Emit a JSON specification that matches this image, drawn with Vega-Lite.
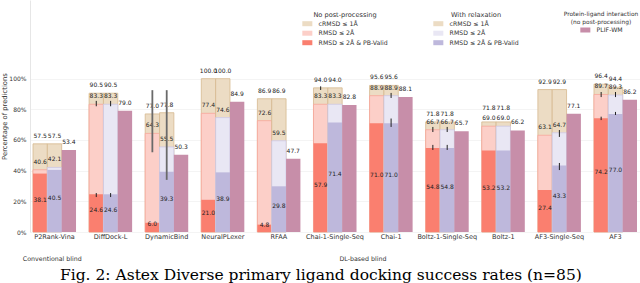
{
  "$schema": "https://vega.github.io/schema/vega-lite/v6.json",
  "width": 610,
  "height": 232,
  "autosize": {"type": "none"},
  "padding": {"left": 30, "top": 0, "right": 0, "bottom": 51},
  "background": "white",
  "title": {
    "text": "Fig. 2: Astex Diverse primary ligand docking success rates (n=85)",
    "orient": "bottom", "anchor": "middle", "frame": "bounds",
    "font": "DejaVu Serif", "fontSize": 15.5, "fontWeight": "normal",
    "color": "#000", "baseline": "top", "offset": 6
  },
  "datasets": {
    "bars": [
      {"method": "P2Rank-Vina", "proc": "none", "metric": "cRMSD ≤ 1Å", "value": 57.5},
      {"method": "P2Rank-Vina", "proc": "none", "metric": "RMSD ≤ 2Å", "value": 40.6},
      {"method": "P2Rank-Vina", "proc": "none", "metric": "RMSD ≤ 2Å & PB-Valid", "value": 38.1},
      {"method": "P2Rank-Vina", "proc": "relax", "metric": "cRMSD ≤ 1Å", "value": 57.5},
      {"method": "P2Rank-Vina", "proc": "relax", "metric": "RMSD ≤ 2Å", "value": 42.1},
      {"method": "P2Rank-Vina", "proc": "relax", "metric": "RMSD ≤ 2Å & PB-Valid", "value": 40.5},
      {"method": "P2Rank-Vina", "proc": "plif", "metric": "PLIF-WM", "value": 53.4},
      {"method": "DiffDock-L", "proc": "none", "metric": "cRMSD ≤ 1Å", "value": 90.5},
      {"method": "DiffDock-L", "proc": "none", "metric": "RMSD ≤ 2Å", "value": 83.3},
      {"method": "DiffDock-L", "proc": "none", "metric": "RMSD ≤ 2Å & PB-Valid", "value": 24.6},
      {"method": "DiffDock-L", "proc": "relax", "metric": "cRMSD ≤ 1Å", "value": 90.5},
      {"method": "DiffDock-L", "proc": "relax", "metric": "RMSD ≤ 2Å", "value": 83.3},
      {"method": "DiffDock-L", "proc": "relax", "metric": "RMSD ≤ 2Å & PB-Valid", "value": 24.6},
      {"method": "DiffDock-L", "proc": "plif", "metric": "PLIF-WM", "value": 79.0},
      {"method": "DynamicBind", "proc": "none", "metric": "cRMSD ≤ 1Å", "value": 77.0},
      {"method": "DynamicBind", "proc": "none", "metric": "RMSD ≤ 2Å", "value": 64.3},
      {"method": "DynamicBind", "proc": "none", "metric": "RMSD ≤ 2Å & PB-Valid", "value": 6.0},
      {"method": "DynamicBind", "proc": "relax", "metric": "cRMSD ≤ 1Å", "value": 77.8},
      {"method": "DynamicBind", "proc": "relax", "metric": "RMSD ≤ 2Å", "value": 55.5},
      {"method": "DynamicBind", "proc": "relax", "metric": "RMSD ≤ 2Å & PB-Valid", "value": 39.3},
      {"method": "DynamicBind", "proc": "plif", "metric": "PLIF-WM", "value": 50.3},
      {"method": "NeuralPLexer", "proc": "none", "metric": "cRMSD ≤ 1Å", "value": 100.0},
      {"method": "NeuralPLexer", "proc": "none", "metric": "RMSD ≤ 2Å", "value": 77.4},
      {"method": "NeuralPLexer", "proc": "none", "metric": "RMSD ≤ 2Å & PB-Valid", "value": 21.0},
      {"method": "NeuralPLexer", "proc": "relax", "metric": "cRMSD ≤ 1Å", "value": 100.0},
      {"method": "NeuralPLexer", "proc": "relax", "metric": "RMSD ≤ 2Å", "value": 74.6},
      {"method": "NeuralPLexer", "proc": "relax", "metric": "RMSD ≤ 2Å & PB-Valid", "value": 38.9},
      {"method": "NeuralPLexer", "proc": "plif", "metric": "PLIF-WM", "value": 84.9},
      {"method": "RFAA", "proc": "none", "metric": "cRMSD ≤ 1Å", "value": 86.9},
      {"method": "RFAA", "proc": "none", "metric": "RMSD ≤ 2Å", "value": 72.6},
      {"method": "RFAA", "proc": "none", "metric": "RMSD ≤ 2Å & PB-Valid", "value": 4.8},
      {"method": "RFAA", "proc": "relax", "metric": "cRMSD ≤ 1Å", "value": 86.9},
      {"method": "RFAA", "proc": "relax", "metric": "RMSD ≤ 2Å", "value": 59.5},
      {"method": "RFAA", "proc": "relax", "metric": "RMSD ≤ 2Å & PB-Valid", "value": 29.8},
      {"method": "RFAA", "proc": "plif", "metric": "PLIF-WM", "value": 47.7},
      {"method": "Chai-1-Single-Seq", "proc": "none", "metric": "cRMSD ≤ 1Å", "value": 94.0},
      {"method": "Chai-1-Single-Seq", "proc": "none", "metric": "RMSD ≤ 2Å", "value": 83.3},
      {"method": "Chai-1-Single-Seq", "proc": "none", "metric": "RMSD ≤ 2Å & PB-Valid", "value": 57.9},
      {"method": "Chai-1-Single-Seq", "proc": "relax", "metric": "cRMSD ≤ 1Å", "value": 94.0},
      {"method": "Chai-1-Single-Seq", "proc": "relax", "metric": "RMSD ≤ 2Å", "value": 83.3},
      {"method": "Chai-1-Single-Seq", "proc": "relax", "metric": "RMSD ≤ 2Å & PB-Valid", "value": 71.4},
      {"method": "Chai-1-Single-Seq", "proc": "plif", "metric": "PLIF-WM", "value": 82.8},
      {"method": "Chai-1", "proc": "none", "metric": "cRMSD ≤ 1Å", "value": 95.6},
      {"method": "Chai-1", "proc": "none", "metric": "RMSD ≤ 2Å", "value": 88.9},
      {"method": "Chai-1", "proc": "none", "metric": "RMSD ≤ 2Å & PB-Valid", "value": 71.0},
      {"method": "Chai-1", "proc": "relax", "metric": "cRMSD ≤ 1Å", "value": 95.6},
      {"method": "Chai-1", "proc": "relax", "metric": "RMSD ≤ 2Å", "value": 88.9},
      {"method": "Chai-1", "proc": "relax", "metric": "RMSD ≤ 2Å & PB-Valid", "value": 71.0},
      {"method": "Chai-1", "proc": "plif", "metric": "PLIF-WM", "value": 88.1},
      {"method": "Boltz-1-Single-Seq", "proc": "none", "metric": "cRMSD ≤ 1Å", "value": 71.8},
      {"method": "Boltz-1-Single-Seq", "proc": "none", "metric": "RMSD ≤ 2Å", "value": 66.7},
      {"method": "Boltz-1-Single-Seq", "proc": "none", "metric": "RMSD ≤ 2Å & PB-Valid", "value": 54.8},
      {"method": "Boltz-1-Single-Seq", "proc": "relax", "metric": "cRMSD ≤ 1Å", "value": 71.8},
      {"method": "Boltz-1-Single-Seq", "proc": "relax", "metric": "RMSD ≤ 2Å", "value": 66.7},
      {"method": "Boltz-1-Single-Seq", "proc": "relax", "metric": "RMSD ≤ 2Å & PB-Valid", "value": 54.8},
      {"method": "Boltz-1-Single-Seq", "proc": "plif", "metric": "PLIF-WM", "value": 65.7},
      {"method": "Boltz-1", "proc": "none", "metric": "cRMSD ≤ 1Å", "value": 71.8},
      {"method": "Boltz-1", "proc": "none", "metric": "RMSD ≤ 2Å", "value": 69.0},
      {"method": "Boltz-1", "proc": "none", "metric": "RMSD ≤ 2Å & PB-Valid", "value": 53.2},
      {"method": "Boltz-1", "proc": "relax", "metric": "cRMSD ≤ 1Å", "value": 71.8},
      {"method": "Boltz-1", "proc": "relax", "metric": "RMSD ≤ 2Å", "value": 69.0},
      {"method": "Boltz-1", "proc": "relax", "metric": "RMSD ≤ 2Å & PB-Valid", "value": 53.2},
      {"method": "Boltz-1", "proc": "plif", "metric": "PLIF-WM", "value": 66.2},
      {"method": "AF3-Single-Seq", "proc": "none", "metric": "cRMSD ≤ 1Å", "value": 92.9},
      {"method": "AF3-Single-Seq", "proc": "none", "metric": "RMSD ≤ 2Å", "value": 63.1},
      {"method": "AF3-Single-Seq", "proc": "none", "metric": "RMSD ≤ 2Å & PB-Valid", "value": 27.4},
      {"method": "AF3-Single-Seq", "proc": "relax", "metric": "cRMSD ≤ 1Å", "value": 92.9},
      {"method": "AF3-Single-Seq", "proc": "relax", "metric": "RMSD ≤ 2Å", "value": 64.7},
      {"method": "AF3-Single-Seq", "proc": "relax", "metric": "RMSD ≤ 2Å & PB-Valid", "value": 43.3},
      {"method": "AF3-Single-Seq", "proc": "plif", "metric": "PLIF-WM", "value": 77.1},
      {"method": "AF3", "proc": "none", "metric": "cRMSD ≤ 1Å", "value": 96.4},
      {"method": "AF3", "proc": "none", "metric": "RMSD ≤ 2Å", "value": 89.7},
      {"method": "AF3", "proc": "none", "metric": "RMSD ≤ 2Å & PB-Valid", "value": 74.2},
      {"method": "AF3", "proc": "relax", "metric": "cRMSD ≤ 1Å", "value": 94.4},
      {"method": "AF3", "proc": "relax", "metric": "RMSD ≤ 2Å", "value": 89.3},
      {"method": "AF3", "proc": "relax", "metric": "RMSD ≤ 2Å & PB-Valid", "value": 77.0},
      {"method": "AF3", "proc": "plif", "metric": "PLIF-WM", "value": 86.2}
    ],
    "errs": [
      {"method": "DiffDock-L", "proc": "none", "lo": 82.0, "hi": 85.5},
      {"method": "DiffDock-L", "proc": "relax", "lo": 82.0, "hi": 85.5},
      {"method": "DiffDock-L", "proc": "none", "lo": 22.8, "hi": 25.4},
      {"method": "DiffDock-L", "proc": "relax", "lo": 22.8, "hi": 25.4},
      {"method": "DynamicBind", "proc": "none", "lo": 52.0, "hi": 92.5},
      {"method": "DynamicBind", "proc": "relax", "lo": 34.0, "hi": 92.5},
      {"method": "Chai-1-Single-Seq", "proc": "none", "lo": 92.6, "hi": 95.0},
      {"method": "Chai-1", "proc": "relax", "lo": 87.4, "hi": 90.7},
      {"method": "Chai-1", "proc": "relax", "lo": 68.5, "hi": 74.0},
      {"method": "Boltz-1-Single-Seq", "proc": "none", "lo": 65.2, "hi": 68.5},
      {"method": "Boltz-1-Single-Seq", "proc": "relax", "lo": 65.2, "hi": 68.5},
      {"method": "Boltz-1-Single-Seq", "proc": "none", "lo": 53.5, "hi": 56.8},
      {"method": "Boltz-1-Single-Seq", "proc": "relax", "lo": 53.5, "hi": 56.8},
      {"method": "AF3-Single-Seq", "proc": "relax", "lo": 62.0, "hi": 66.5},
      {"method": "AF3-Single-Seq", "proc": "relax", "lo": 40.4, "hi": 45.0},
      {"method": "AF3", "proc": "none", "lo": 88.0, "hi": 91.3},
      {"method": "AF3", "proc": "none", "lo": 73.0, "hi": 75.2},
      {"method": "AF3", "proc": "relax", "lo": 88.0, "hi": 91.3},
      {"method": "AF3", "proc": "relax", "lo": 76.3, "hi": 78.3}
    ],
    "groups": [
      {"label": "Conventional blind", "method": "P2Rank-Vina"},
      {"label": "DL-based blind", "method": "Chai-1-Single-Seq"}
    ]
  },
  "data": {"name": "bars"},
  "encoding": {
    "x": {
      "field": "method", "type": "nominal", "title": null,
      "scale": {
        "domain": ["P2Rank-Vina", "DiffDock-L", "DynamicBind", "NeuralPLexer", "RFAA", "Chai-1-Single-Seq", "Chai-1", "Boltz-1-Single-Seq", "Boltz-1", "AF3-Single-Seq", "AF3"],
        "paddingInner": 0.233, "paddingOuter": 0.0535
      },
      "axis": {"labelAngle": 0, "labelFontSize": 6.5, "labelColor": "#333", "ticks": false, "domain": false, "labelPadding": 1.5, "labelOverlap": false, "labelLimit": 120, "grid": false}
    }
  },
  "layer": [
    {
      "transform": [{"filter": "datum.proc === 'none'"}],
      "encoding": {
        "xOffset": {"field": "proc", "type": "nominal", "scale": {"domain": ["none", "relax", "plif"], "paddingInner": 0, "paddingOuter": 0}},
        "y": {
          "field": "value", "type": "quantitative", "stack": null, "title": "Percentage of predictions",
          "scale": {"domain": [0, 151.3], "nice": false, "zero": true},
          "axis": {"values": [0, 20, 40, 60, 80, 100], "labelExpr": "datum.value + '%'", "labelFontSize": 6, "labelColor": "#333", "ticks": false, "domain": true, "domainColor": "#e6e6e6", "grid": true, "gridColor": "#ededed", "gridWidth": 0.6, "labelPadding": 4, "titleFontSize": 6.8, "titleFontWeight": "normal", "titleColor": "#333", "titlePadding": 1}
        },
        "color": {
          "field": "metric", "type": "nominal",
          "scale": {"domain": ["cRMSD ≤ 1Å", "RMSD ≤ 2Å", "RMSD ≤ 2Å & PB-Valid"], "range": ["#ecdcc4", "#fccfc8", "#fa7f6f"]},
          "legend": {"orient": "none", "legendX": 272, "legendY": 12, "title": "No post-processing", "symbolType": "M-1,-0.9H2.6V0.9H-1Z", "symbolSize": 31, "labelOffset": 10.4}
        }
      },
      "layer": [
        {"transform": [{"filter": {"field": "metric", "equal": "cRMSD ≤ 1Å"}}], "mark": {"type": "bar", "stroke": "#d6b98f", "strokeWidth": 0.8}},
        {"transform": [{"filter": {"field": "metric", "equal": "RMSD ≤ 2Å"}}], "mark": {"type": "bar", "stroke": "#f7a69a", "strokeWidth": 0.8}},
        {"transform": [{"filter": {"field": "metric", "equal": "RMSD ≤ 2Å & PB-Valid"}}], "mark": {"type": "bar"}}
      ]
    },
    {
      "transform": [{"filter": "datum.proc === 'relax'"}],
      "encoding": {
        "xOffset": {"field": "proc", "type": "nominal", "scale": {"domain": ["none", "relax", "plif"], "paddingInner": 0, "paddingOuter": 0}},
        "y": {"field": "value", "type": "quantitative", "stack": null, "title": "Percentage of predictions"},
        "color": {
          "field": "metric", "type": "nominal",
          "scale": {"domain": ["cRMSD ≤ 1Å", "RMSD ≤ 2Å", "RMSD ≤ 2Å & PB-Valid"], "range": ["#ecdcc4", "#e9e7f4", "#beb8dc"]},
          "legend": {"orient": "none", "legendX": 403, "legendY": 12, "title": "With relaxation", "symbolType": "M-1,-0.9H2.6V0.9H-1Z", "symbolSize": 31, "labelOffset": 10.4}
        }
      },
      "layer": [
        {"transform": [{"filter": {"field": "metric", "equal": "cRMSD ≤ 1Å"}}], "mark": {"type": "bar", "stroke": "#d6b98f", "strokeWidth": 0.8}},
        {"transform": [{"filter": {"field": "metric", "equal": "RMSD ≤ 2Å"}}], "mark": {"type": "bar", "stroke": "#cdc8e6", "strokeWidth": 0.8}},
        {"transform": [{"filter": {"field": "metric", "equal": "RMSD ≤ 2Å & PB-Valid"}}], "mark": {"type": "bar"}}
      ]
    },
    {
      "transform": [{"filter": "datum.proc === 'plif'"}],
      "mark": {"type": "bar"},
      "encoding": {
        "xOffset": {"field": "proc", "type": "nominal", "scale": {"domain": ["none", "relax", "plif"], "paddingInner": 0, "paddingOuter": 0}},
        "y": {"field": "value", "type": "quantitative", "stack": null, "title": "Percentage of predictions"},
        "color": {
          "field": "metric", "type": "nominal",
          "scale": {"domain": ["PLIF-WM"], "range": ["#c78ea9"]},
          "legend": {"orient": "none", "legendX": 534, "legendY": 11, "title": ["Protein-ligand interaction", "(no post-processing)"], "titleFontSize": 5.9, "symbolType": "M-1,-0.9H2.6V0.9H-1Z", "symbolSize": 31, "labelOffset": 10.4}
        }
      }
    },
    {
      "transform": [{"filter": "datum.metric !== 'RMSD ≤ 2Å & PB-Valid' && datum.method !== 'Boltz-1'"}],
      "mark": {"type": "text", "baseline": "alphabetic", "dy": -6, "fontSize": 6, "color": "#222"},
      "encoding": {
        "xOffset": {"field": "proc", "type": "nominal", "scale": {"domain": ["none", "relax", "plif"], "paddingInner": 0, "paddingOuter": 0}},
        "y": {"field": "value", "type": "quantitative", "stack": null, "title": "Percentage of predictions"},
        "text": {"field": "value", "type": "quantitative", "format": ".1f"}
      }
    },
    {
      "transform": [{"filter": "datum.method === 'Boltz-1' && datum.metric === 'cRMSD ≤ 1Å'"}],
      "mark": {"type": "text", "baseline": "alphabetic", "dy": -12, "fontSize": 6, "color": "#222"},
      "encoding": {
        "xOffset": {"field": "proc", "type": "nominal", "scale": {"domain": ["none", "relax", "plif"], "paddingInner": 0, "paddingOuter": 0}},
        "y": {"field": "value", "type": "quantitative", "stack": null, "title": "Percentage of predictions"},
        "text": {"field": "value", "type": "quantitative", "format": ".1f"}
      }
    },
    {
      "transform": [{"filter": "datum.method === 'Boltz-1' && (datum.metric === 'RMSD ≤ 2Å' || datum.metric === 'PLIF-WM')"}],
      "mark": {"type": "text", "baseline": "alphabetic", "dy": -6, "fontSize": 6, "color": "#222"},
      "encoding": {
        "xOffset": {"field": "proc", "type": "nominal", "scale": {"domain": ["none", "relax", "plif"], "paddingInner": 0, "paddingOuter": 0}},
        "y": {"field": "value", "type": "quantitative", "stack": null, "title": "Percentage of predictions"},
        "text": {"field": "value", "type": "quantitative", "format": ".1f"}
      }
    },
    {
      "transform": [{"filter": "datum.metric === 'RMSD ≤ 2Å & PB-Valid' && datum.proc === 'none'"}],
      "mark": {"type": "text", "baseline": "middle", "dy": -3, "fontSize": 6, "color": "#222"},
      "encoding": {
        "xOffset": {"field": "proc", "type": "nominal", "scale": {"domain": ["none", "relax", "plif"], "paddingInner": 0, "paddingOuter": 0}},
        "y": {"field": "value", "type": "quantitative", "stack": "zero", "bandPosition": 0.5, "title": "Percentage of predictions"},
        "text": {"field": "value", "type": "quantitative", "format": ".1f"}
      }
    },
    {
      "transform": [{"filter": "datum.metric === 'RMSD ≤ 2Å & PB-Valid' && datum.proc === 'relax'"}],
      "mark": {"type": "text", "baseline": "middle", "dy": -3, "fontSize": 6, "color": "#222"},
      "encoding": {
        "xOffset": {"field": "proc", "type": "nominal", "scale": {"domain": ["none", "relax", "plif"], "paddingInner": 0, "paddingOuter": 0}},
        "y": {"field": "value", "type": "quantitative", "stack": "zero", "bandPosition": 0.5, "title": "Percentage of predictions"},
        "text": {"field": "value", "type": "quantitative", "format": ".1f"}
      }
    },
    {
      "data": {"name": "errs"},
      "transform": [{"filter": "datum.method !== 'DynamicBind'"}],
      "mark": {"type": "rule", "color": "#222", "strokeWidth": 1},
      "encoding": {
        "xOffset": {"field": "proc", "type": "nominal", "scale": {"domain": ["none", "relax", "plif"], "paddingInner": 0, "paddingOuter": 0}},
        "y": {"field": "lo", "type": "quantitative", "title": "Percentage of predictions"},
        "y2": {"field": "hi"}
      }
    },
    {
      "data": {"name": "errs"},
      "transform": [{"filter": "datum.method === 'DynamicBind'"}],
      "mark": {"type": "rule", "color": "#6a6a6a", "strokeWidth": 1.8},
      "encoding": {
        "xOffset": {"field": "proc", "type": "nominal", "scale": {"domain": ["none", "relax", "plif"], "paddingInner": 0, "paddingOuter": 0}},
        "y": {"field": "lo", "type": "quantitative", "title": "Percentage of predictions"},
        "y2": {"field": "hi"}
      }
    },
    {
      "data": {"name": "groups"},
      "transform": [{"filter": "datum.label === 'Conventional blind'"}],
      "mark": {"type": "text", "baseline": "middle", "fontSize": 6.3, "color": "#333"},
      "encoding": {
        "x": {"field": "method", "type": "nominal", "title": null, "bandPosition": 0.45,
          "scale": {"domain": ["P2Rank-Vina", "DiffDock-L", "DynamicBind", "NeuralPLexer", "RFAA", "Chai-1-Single-Seq", "Chai-1", "Boltz-1-Single-Seq", "Boltz-1", "AF3-Single-Seq", "AF3"]}},
        "y": {"datum": -17.5, "type": "quantitative", "title": "Percentage of predictions"},
        "text": {"field": "label"}
      }
    },
    {
      "data": {"name": "groups"},
      "transform": [{"filter": "datum.label === 'DL-based blind'"}],
      "mark": {"type": "text", "baseline": "middle", "fontSize": 6.3, "color": "#333"},
      "encoding": {
        "x": {"field": "method", "type": "nominal", "title": null, "bandPosition": 1.15,
          "scale": {"domain": ["P2Rank-Vina", "DiffDock-L", "DynamicBind", "NeuralPLexer", "RFAA", "Chai-1-Single-Seq", "Chai-1", "Boltz-1-Single-Seq", "Boltz-1", "AF3-Single-Seq", "AF3"]}},
        "y": {"datum": -17.5, "type": "quantitative", "title": "Percentage of predictions"},
        "text": {"field": "label"}
      }
    }
  ],
  "resolve": {"scale": {"color": "independent"}, "legend": {"color": "independent"}},
  "config": {
    "font": "DejaVu Sans",
    "view": {"stroke": null},
    "legend": {"padding": 0, "titleFontSize": 6.6, "titleFontWeight": "normal", "titleColor": "#333", "labelFontSize": 6.2, "labelColor": "#333", "titleAnchor": "middle", "titlePadding": 2, "rowPadding": 2.5, "symbolStrokeWidth": 0, "titleLimit": 300, "labelLimit": 300, "titleLineHeight": 8}
  }
}
